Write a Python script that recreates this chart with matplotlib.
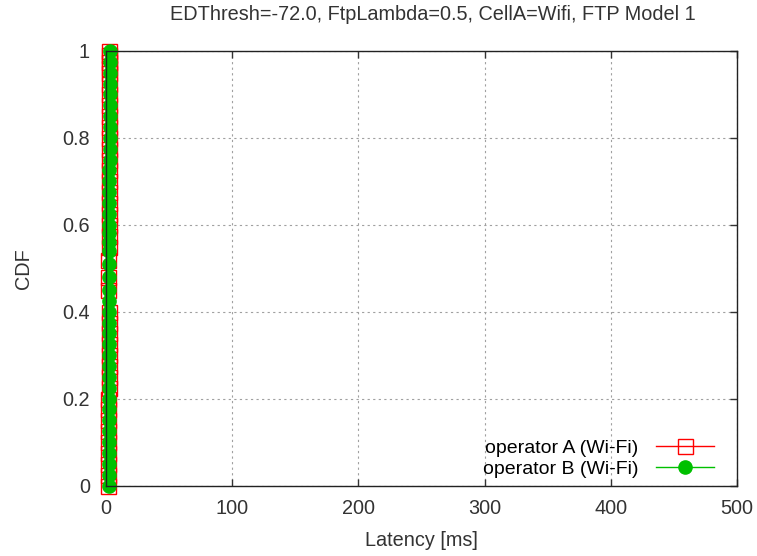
import numpy as np
import matplotlib
matplotlib.use("Agg")
import matplotlib.pyplot as plt

# latency samples (ms) and their CDF values
latency_a = [1.7, 1.8, 1.8, 1.8, 1.9, 1.9, 1.9, 1.9, 1.9, 2.0,
             2.0, 2.0, 2.0, 2.0, 2.0, 2.0, 2.0, 1.7, 1.6, 1.7,
             2.0, 2.0, 2.1, 2.1, 2.1, 2.1, 2.1, 2.1, 2.1, 2.1,
             2.2, 2.2, 2.2, 2.2, 2.2, 2.2, 2.2, 2.3, 2.3, 2.3, 2.3]
cdf_a = [0.0, 0.025, 0.05, 0.075, 0.1, 0.125, 0.15, 0.175, 0.2, 0.225,
         0.25, 0.275, 0.3, 0.325, 0.35, 0.375, 0.4, 0.45, 0.48, 0.52,
         0.55, 0.575, 0.6, 0.625, 0.65, 0.675, 0.7, 0.725, 0.75, 0.775,
         0.8, 0.825, 0.85, 0.875, 0.9, 0.925, 0.95, 0.96, 0.975, 0.99, 1.0]

latency_b = [2.0, 2.1, 2.1, 2.2, 2.2, 2.2, 2.3, 2.3, 2.3, 2.3,
             2.4, 2.4, 2.4, 2.4, 2.4, 2.4, 2.5, 2.5, 2.5, 2.4,
             2.3, 2.5, 2.6, 2.6, 2.6, 2.6, 2.7, 2.7, 2.7, 2.7,
             2.8, 2.8, 2.8, 2.8, 2.9, 2.9, 2.9, 3.0, 3.0, 3.1, 3.1]
cdf_b = [0.0, 0.025, 0.05, 0.075, 0.1, 0.125, 0.15, 0.175, 0.2, 0.225,
         0.25, 0.275, 0.3, 0.325, 0.35, 0.375, 0.4, 0.425, 0.45, 0.48,
         0.51, 0.54, 0.56, 0.58, 0.6, 0.625, 0.65, 0.675, 0.7, 0.725,
         0.75, 0.775, 0.8, 0.825, 0.85, 0.875, 0.9, 0.925, 0.95, 0.975, 1.0]

x_ticks = [0, 100, 200, 300, 400, 500]
y_ticks = [0, 0.2, 0.4, 0.6, 0.8, 1.0]
y_tick_labels = ["0", "0.2", "0.4", "0.6", "0.8", "1"]

title = "EDThresh=-72.0, FtpLambda=0.5, CellA=Wifi, FTP Model 1"

plt.rcParams["font.family"] = ["Liberation Sans", "DejaVu Sans"]
txt = "#333333"

fig = plt.figure(figsize=(7.57, 5.56), dpi=100)
W, H = 757, 556
ax = fig.add_axes([106 / W, 1 - 485.5 / H, (737 - 106) / W, (485.5 - 51) / H])

ax.plot(latency_a, cdf_a, color="red", lw=1, marker="s", ms=10.8,
        mfc="none", mec="red", mew=1, clip_on=False, zorder=2,
        label="operator A (Wi-Fi)")
ax.plot(latency_b, cdf_b, color="#00c000", lw=1, marker="o", ms=9.5,
        mfc="#00c000", mec="#00c000", clip_on=False, zorder=2.1,
        label="operator B (Wi-Fi)")

ax.set_xlim(0, 500)
ax.set_ylim(0, 1)
ax.set_xticks(x_ticks)
ax.set_yticks(y_ticks)
ax.set_yticklabels(y_tick_labels)
ax.tick_params(direction="in", top=True, right=True, length=5, width=1,
               labelsize=14.3, colors=txt, pad=11.5)
ax.tick_params(axis="x", pad=10)
ax.grid(True, color="#a0a0a0", linestyle=(0, (2, 3)), linewidth=0.8)
for s in ax.spines.values():
    s.set_color("#222222")
    s.set_linewidth(1)
    s.set_zorder(3)

ax.set_xlabel("Latency [ms]", fontsize=14.3, color=txt, labelpad=9)
ax.set_ylabel("CDF", fontsize=14.3, color=txt, labelpad=21)
fig.text(433 / W, 1 - 14 / H, title, ha="center", va="center",
         fontsize=14.3, color=txt)

ax.legend(loc="lower right", frameon=False, markerfirst=False, fontsize=14,
          handlelength=3.0, handletextpad=0.9, borderaxespad=0.0,
          labelspacing=0.15, bbox_to_anchor=(0.976, 0.0))

fig.savefig("out.png", dpi=100)
